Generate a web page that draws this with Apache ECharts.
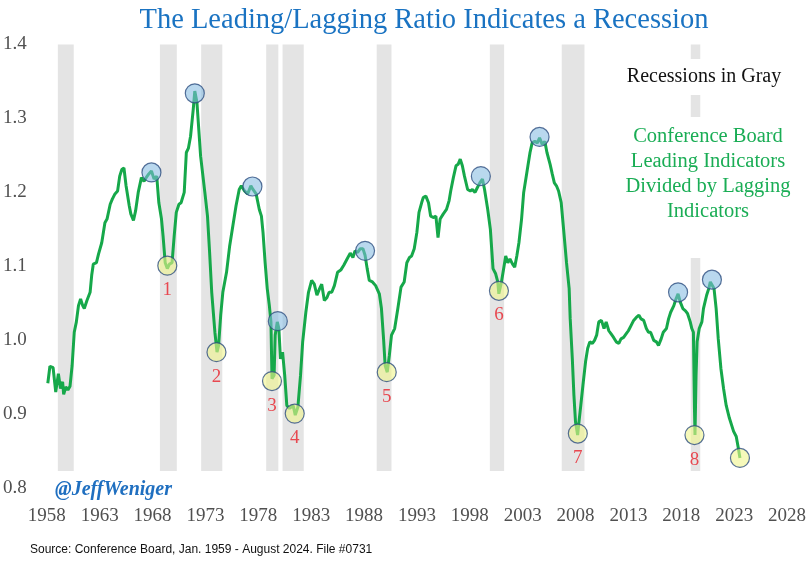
<!DOCTYPE html>
<html>
<head>
<meta charset="utf-8">
<script src="https://cdn.jsdelivr.net/npm/echarts@6/dist/echarts.min.js"></script>
<style>
html,body{margin:0;padding:0;background:#fff;}
#chart{width:811px;height:561px;}
</style>
</head>
<body>
<div id="chart"></div>
<script>
// Line data (x positions as drawn on the chart's year axis)
const lineYears = [1958.1,1958.3,1958.6,1958.85,1959.1,1959.3,1959.5,1959.6,1959.8,1960.0,1960.2,1960.4,1960.6,1960.8,1961.0,1961.2,1961.4,1961.55,1961.8,1962.1,1962.25,1962.4,1962.7,1962.9,1963.2,1963.5,1963.7,1964.0,1964.2,1964.45,1964.7,1964.9,1965.1,1965.3,1965.5,1965.8,1965.95,1966.2,1966.4,1966.65,1966.95,1967.2,1967.4,1967.65,1967.9,1968.15,1968.4,1968.6,1968.85,1969.0,1969.2,1969.4,1969.6,1969.85,1970.05,1970.25,1970.5,1970.7,1971.0,1971.2,1971.4,1971.6,1971.85,1972.0,1972.2,1972.55,1972.95,1973.2,1973.4,1973.6,1973.9,1974.1,1974.25,1974.45,1974.65,1975.0,1975.3,1975.6,1975.9,1976.2,1976.4,1976.7,1977.0,1977.3,1977.5,1977.8,1978.1,1978.3,1978.45,1978.65,1978.85,1979.05,1979.2,1979.3,1979.5,1979.6,1979.8,1979.95,1980.1,1980.3,1980.5,1980.7,1980.95,1981.3,1981.5,1981.75,1982.0,1982.2,1982.5,1982.75,1983.05,1983.3,1983.55,1983.8,1984.0,1984.25,1984.5,1984.7,1984.95,1985.2,1985.5,1985.8,1986.1,1986.4,1986.7,1986.95,1987.15,1987.4,1987.65,1987.9,1988.1,1988.3,1988.5,1988.8,1989.1,1989.45,1989.65,1989.85,1990.0,1990.2,1990.4,1990.6,1990.9,1991.2,1991.5,1991.8,1992.05,1992.3,1992.5,1992.75,1993.0,1993.2,1993.45,1993.6,1993.85,1994.1,1994.3,1994.6,1994.8,1995.0,1995.2,1995.5,1995.8,1996.05,1996.2,1996.45,1996.7,1996.9,1997.1,1997.3,1997.5,1997.8,1998.05,1998.25,1998.5,1998.7,1998.95,1999.2,1999.4,1999.7,1999.95,2000.2,2000.45,2000.65,2000.75,2001.0,2001.25,2001.4,2001.6,2001.8,2002.05,2002.25,2002.45,2002.65,2002.9,2003.1,2003.4,2003.5,2003.7,2003.9,2004.15,2004.4,2004.6,2004.85,2005.1,2005.3,2005.6,2005.8,2006.0,2006.2,2006.4,2006.65,2006.9,2007.15,2007.4,2007.5,2007.7,2007.85,2008.0,2008.2,2008.3,2008.5,2008.7,2008.95,2009.15,2009.35,2009.6,2009.8,2010.0,2010.2,2010.45,2010.7,2010.9,2011.15,2011.35,2011.6,2011.85,2012.1,2012.3,2012.55,2012.8,2013.0,2013.25,2013.5,2013.75,2014.0,2014.2,2014.45,2014.7,2014.9,2015.1,2015.4,2015.65,2015.85,2016.1,2016.3,2016.6,2016.8,2017.0,2017.3,2017.5,2017.7,2017.9,2018.15,2018.4,2018.6,2018.85,2019.0,2019.15,2019.25,2019.3,2019.4,2019.5,2019.7,2019.95,2020.1,2020.25,2020.4,2020.6,2020.75,2020.9,2021.1,2021.3,2021.5,2021.75,2022.0,2022.25,2022.55,2022.95,2023.2,2023.4,2023.55];
const lineRatio = [0.942,0.965,0.963,0.930,0.955,0.935,0.944,0.927,0.937,0.933,0.938,0.966,1.011,1.025,1.047,1.056,1.047,1.043,1.054,1.065,1.088,1.103,1.105,1.117,1.132,1.159,1.164,1.184,1.191,1.198,1.202,1.222,1.231,1.233,1.209,1.182,1.171,1.162,1.175,1.200,1.220,1.215,1.220,1.225,1.229,1.218,1.222,1.186,1.164,1.141,1.105,1.097,1.103,1.105,1.141,1.173,1.184,1.186,1.200,1.254,1.260,1.276,1.312,1.337,1.322,1.249,1.200,1.168,1.119,1.065,1.011,0.984,0.993,1.034,1.065,1.092,1.128,1.155,1.182,1.204,1.209,1.202,1.198,1.209,1.204,1.198,1.177,1.168,1.146,1.105,1.070,1.047,1.025,0.948,0.953,1.007,1.025,1.016,0.975,0.984,0.953,0.912,0.908,0.912,0.899,0.910,0.953,0.998,1.038,1.065,1.081,1.076,1.061,1.070,1.076,1.054,1.058,1.065,1.065,1.074,1.092,1.095,1.102,1.110,1.118,1.112,1.121,1.119,1.124,1.124,1.115,1.097,1.081,1.079,1.074,1.063,1.043,1.002,0.966,0.957,0.980,1.007,1.016,1.043,1.072,1.079,1.105,1.112,1.114,1.124,1.146,1.173,1.186,1.193,1.195,1.186,1.168,1.166,1.168,1.139,1.164,1.171,1.177,1.189,1.202,1.220,1.236,1.238,1.245,1.236,1.222,1.204,1.202,1.204,1.200,1.206,1.213,1.218,1.204,1.177,1.150,1.097,1.090,1.079,1.063,1.079,1.101,1.114,1.105,1.110,1.103,1.099,1.114,1.132,1.164,1.200,1.227,1.236,1.254,1.267,1.269,1.267,1.274,1.265,1.269,1.254,1.238,1.225,1.213,1.209,1.202,1.186,1.146,1.105,1.070,1.029,0.975,0.926,0.890,0.872,0.886,0.912,0.939,0.971,0.989,0.998,0.996,1.000,1.007,1.025,1.027,1.016,1.025,1.013,1.009,1.004,0.998,0.996,1.002,1.004,1.009,1.013,1.020,1.027,1.031,1.034,1.029,1.027,1.016,1.011,1.011,1.000,0.998,0.993,1.002,1.011,1.016,1.029,1.038,1.047,1.056,1.063,1.052,1.043,1.040,1.036,1.025,1.016,1.011,0.908,0.872,0.953,0.998,1.016,1.025,1.043,1.052,1.061,1.070,1.079,1.081,1.070,1.043,1.002,0.962,0.935,0.912,0.895,0.877,0.870,0.854,0.841];

// Peaks (blue circles)
const peakYears  = [1967.9, 1972.0, 1977.45, 1979.85, 1988.1, 1999.05, 2004.6, 2017.7, 2020.9];
const peakValues = [1.227, 1.334, 1.208, 1.026, 1.121, 1.222, 1.275, 1.065, 1.082];

// Troughs (yellow circles) and their labels
const troughYears  = [1969.4, 1974.05, 1979.3, 1981.45, 1990.15, 2000.76, 2008.22, 2019.25, 2023.55];
const troughValues = [1.101, 0.984, 0.945, 0.901, 0.957, 1.067, 0.874, 0.872, 0.841];
const troughLabels = ['1','2','3','4','5','6','7','8',''];

// Recession bands (start, end on the drawn year axis)
const recessionStarts = [1959.05, 1968.7, 1972.6, 1978.75, 1980.3, 1989.2, 1999.9, 2006.7, 2018.9];
const recessionEnds   = [1960.55, 1970.3, 1974.6, 1979.9, 1982.3, 1990.6, 2001.25, 2008.85, 2019.8];
const bandBottom = 0.8235, bandTop = 1.4;

// Axis ticks
const xMin = 1958, xMax = 2028, xStep = 5;
const yMin = 0.8, yMax = 1.4, yStep = 0.1;

const serif = '"Liberation Serif", "DejaVu Serif", serif';
const green = '#16a84a';

const chart = echarts.init(document.getElementById('chart'), null, {renderer:'canvas'});

const linePoints = lineYears.map((y,i)=>[y, lineRatio[i]]);
const peakPoints = peakYears.map((y,i)=>[y, peakValues[i]]);
const troughPoints = troughYears.map((y,i)=>[y, troughValues[i]]);
const bands = recessionStarts.map((s,i)=>[{xAxis:s, yAxis:bandBottom},{xAxis:recessionEnds[i], yAxis:bandTop}]);

chart.setOption({
  animation:false,
  backgroundColor:'#ffffff',
  title:{
    text:'The Leading/Lagging Ratio Indicates a Recession',
    left:419, top:1, textAlign:'center',
    textStyle:{fontFamily:serif, fontSize:28.5, fontWeight:'normal', color:'#1a73c2'}
  },
  grid:{left:45, right:24, top:44.5, bottom:72.7},
  xAxis:{
    type:'value', min:xMin, max:xMax, interval:xStep,
    axisLine:{show:false}, axisTick:{show:false}, splitLine:{show:false},
    axisLabel:{margin:18, fontFamily:serif, fontSize:19, color:'#505050', formatter:v=>String(v)}
  },
  yAxis:{
    type:'value', min:yMin, max:yMax, interval:yStep,
    axisLine:{show:false}, axisTick:{show:false}, splitLine:{show:false},
    axisLabel:{margin:20, fontFamily:serif, fontSize:19, color:'#505050', formatter:v=>v.toFixed(1)}
  },
  series:[
    {
      type:'line', data:[], silent:true, z:1,
      markArea:{silent:true, itemStyle:{color:'#e4e4e4'}, data:bands}
    },
    {
      type:'line', data:linePoints, showSymbol:false, z:3,
      lineStyle:{color:green, width:3}, itemStyle:{color:green}
    },
    {
      type:'scatter', data:peakPoints, symbolSize:19, z:4,
      itemStyle:{color:'rgba(130,185,225,0.7)', borderColor:'#2d4d80', borderWidth:1.2}
    },
    {
      type:'scatter', data:troughPoints, symbolSize:19, z:4,
      itemStyle:{color:'rgba(240,245,140,0.75)', borderColor:'#2d4d80', borderWidth:1.2},
      label:{show:true, position:'bottom', distance:5,
        formatter:p=>troughLabels[p.dataIndex],
        fontFamily:serif, fontSize:19, color:'#e8202a'}
    }
  ],
  graphic:[
    {type:'rect', z:100, shape:{x:610, y:59, width:190, height:36}, style:{fill:'#ffffff'}},
    {type:'rect', z:100, shape:{x:615, y:117, width:190, height:141}, style:{fill:'#ffffff'}},
    {type:'text', z:101, x:704, y:77, style:{text:'Recessions in Gray', font:'20px '+serif, fill:'#111111', textAlign:'center', textVerticalAlign:'middle'}},
    {type:'text', z:101, x:708, y:124, style:{text:'Conference Board\nLeading Indicators\nDivided by Lagging\nIndicators', font:'20.5px '+serif, fill:'#1aad55', textAlign:'center', lineHeight:25}},
    {type:'text', z:101, x:55, y:490, style:{text:'@JeffWeniger', font:'italic bold 20px '+serif, fill:'#1f6fc0', textVerticalAlign:'middle'}},
    {type:'text', z:101, x:30, y:550, style:{text:'Source: Conference Board, Jan. 1959 - August 2024. File #0731', font:'12px "Liberation Sans", Arial, sans-serif', fill:'#111111', textVerticalAlign:'middle'}}
  ]
});
</script>
</body>
</html>
